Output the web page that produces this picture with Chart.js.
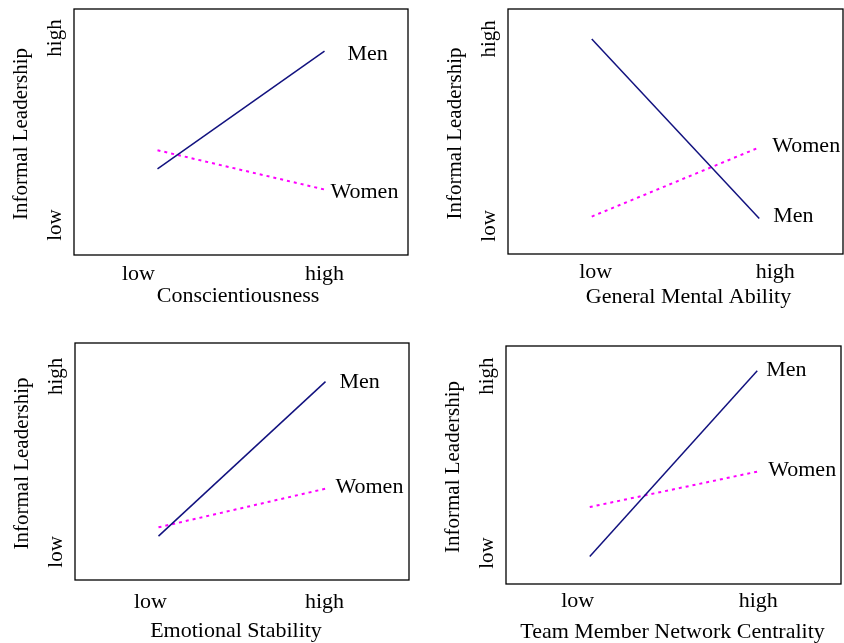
<!DOCTYPE html>
<html>
<head>
<meta charset="utf-8">
<script src="https://cdn.jsdelivr.net/npm/chart.js@4/dist/chart.umd.min.js"></script>
<style>
  body { margin: 0; background: #fff; }
  #wrap { position: relative; width: 844px; height: 643px; }
  canvas { position: absolute; }
</style>
</head>
<body>
<div id="wrap"></div>
<script>
// data
const xLabels = ["low", "high"];
const yLabels = ["low", "high"];
const yTitle = "Informal Leadership";
const panelTitles = ["Conscientiousness", "General Mental Ability", "Emotional Stability", "Team Member Network Centrality"];
const menValues = [[0.30, 0.93], [1.00, 0.04], [0.09, 0.97], [-0.02, 1.03]];
const womenValues = [[0.40, 0.19], [0.05, 0.42], [0.14, 0.36], [0.26, 0.46]];

// layout of each panel (pixels)
const panels = [
    { left: 0, top: 0, w: 422, h: 321, pad: { left: 74, right: 14, top: 9, bottom: 66 }, yMin: -0.16, yMax: 1.155,
      tickDx: [-19, 0], tickDy: 25, titleDx: -3, titleDy: 47, men: [23, 9], women: [6, 8] },
    { left: 422, top: 0, w: 422, h: 321, pad: { left: 86, right: 1, top: 9, bottom: 67 }, yMin: -0.15, yMax: 1.16,
      tickDx: [4, 16], tickDy: 24, titleDx: 13, titleDy: 49, men: [14, 4], women: [13, 5] },
    { left: 0, top: 321, w: 422, h: 322, pad: { left: 75, right: 13, top: 22, bottom: 63 }, yMin: -0.16, yMax: 1.19,
      tickDx: [-8, -1], tickDy: 28, titleDx: -6, titleDy: 57, men: [14, 6], women: [10, 4] },
    { left: 422, top: 321, w: 422, h: 322, pad: { left: 84, right: 3, top: 25, bottom: 59 }, yMin: -0.175, yMax: 1.17,
      tickDx: [-12, 1], tickDy: 23, titleDx: -1, titleDy: 54, men: [9, 5], women: [11, 4] }
];

const FONT_H = '22px "Liberation Serif", "Times New Roman", serif';
const FONT_V = '21px "Liberation Serif", "Times New Roman", serif';

const decorations = {
    id: "decorations",
    afterDraw(chart) {
        const p = chart.options.plugins.decorations;
        const ctx = chart.ctx;
        const area = chart.chartArea;
        const xs = chart.scales.x, ys = chart.scales.y;
        ctx.save();
        // frame
        ctx.strokeStyle = "#000";
        ctx.lineWidth = 1.3;
        ctx.strokeRect(area.left, area.top, area.right - area.left, area.bottom - area.top);

        ctx.fillStyle = "#000";
        ctx.font = FONT_H;

        // x tick labels and title
        ctx.textAlign = "center";
        ctx.textBaseline = "alphabetic";
        xLabels.forEach((lab, i) => {
            ctx.fillText(lab, xs.getPixelForValue(i) + p.tickDx[i], area.bottom + p.tickDy);
        });
        ctx.fillText(p.title, (area.left + area.right) / 2 + p.titleDx, area.bottom + p.titleDy);

        // y tick labels and title (rotated)
        ctx.font = FONT_V;
        ctx.textBaseline = "middle";
        yLabels.forEach((lab, i) => {
            ctx.save();
            ctx.translate(area.left - 19, ys.getPixelForValue(i));
            ctx.rotate(-Math.PI / 2);
            ctx.fillText(lab, 0, 0);
            ctx.restore();
        });
        ctx.save();
        ctx.translate(area.left - 53, (area.top + area.bottom) / 2 + 2);
        ctx.rotate(-Math.PI / 2);
        ctx.fillText(yTitle, 0, 0);
        ctx.restore();

        // series labels at line ends
        ctx.font = FONT_H;
        ctx.textAlign = "left";
        ctx.textBaseline = "alphabetic";
        chart.data.datasets.forEach((ds, i) => {
            const pts = chart.getDatasetMeta(i).data;
            const last = pts[pts.length - 1];
            const off = ds.label === "Men" ? p.men : p.women;
            ctx.fillText(ds.label, last.x + off[0], last.y + off[1]);
        });
        ctx.restore();
    }
};

const wrap = document.getElementById("wrap");

panels.forEach((pn, k) => {
    const canvas = document.createElement("canvas");
    canvas.width = pn.w;
    canvas.height = pn.h;
    canvas.style.left = pn.left + "px";
    canvas.style.top = pn.top + "px";
    wrap.appendChild(canvas);

    new Chart(canvas.getContext("2d"), {
        type: "line",
        data: {
            datasets: [
                {
                    label: "Men",
                    data: menValues[k].map((v, i) => ({ x: i, y: v })),
                    borderColor: "#12127f",
                    borderWidth: 1.5,
                    pointRadius: 0,
                    fill: false
                },
                {
                    label: "Women",
                    data: womenValues[k].map((v, i) => ({ x: i, y: v })),
                    borderColor: "#ff00ff",
                    borderWidth: 2,
                    borderDash: [3, 4],
                    pointRadius: 0,
                    fill: false
                }
            ]
        },
        options: {
            responsive: false,
            animation: false,
            layout: { padding: pn.pad },
            scales: {
                x: { type: "linear", min: -0.5, max: 1.5, display: false },
                y: { type: "linear", min: pn.yMin, max: pn.yMax, display: false }
            },
            plugins: {
                legend: { display: false },
                tooltip: { enabled: false },
                decorations: {
                    title: panelTitles[k],
                    tickDx: pn.tickDx, tickDy: pn.tickDy,
                    titleDx: pn.titleDx, titleDy: pn.titleDy,
                    men: pn.men, women: pn.women
                }
            }
        },
        plugins: [decorations]
    });
});
</script>
</body>
</html>
